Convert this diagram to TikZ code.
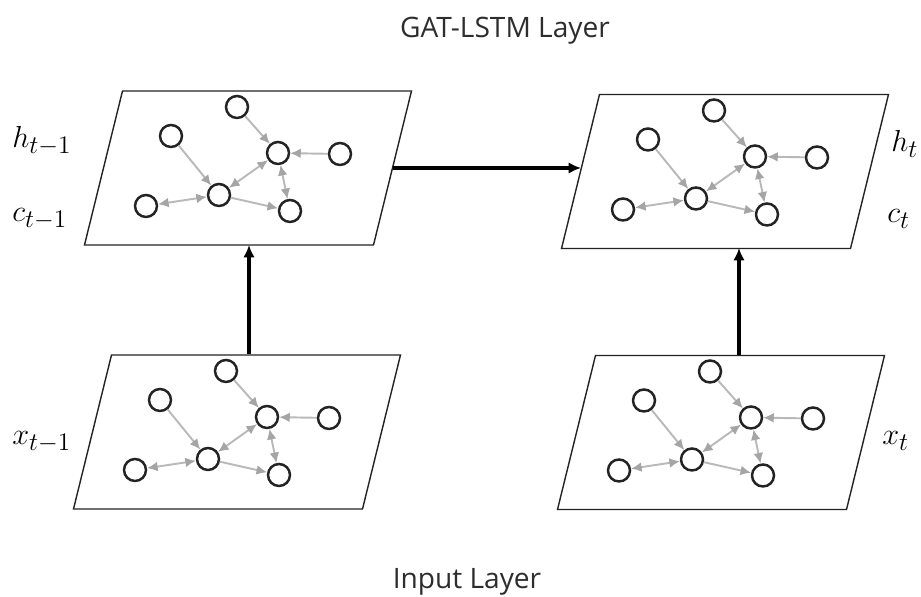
\documentclass[tikz,border=0pt]{standalone}
\usepackage{amsmath}
\usepackage{fontspec}
\usepackage{tikz}
\setsansfont{Open Sans}
\usetikzlibrary{arrows.meta}
\definecolor{mgray}{RGB}{185, 185, 185}
\definecolor{mtip}{RGB}{165, 165, 165}
\definecolor{mring}{RGB}{35, 35, 35}
\definecolor{mtext}{RGB}{45, 45, 45}
\tikzset{vertex/.style = {circle, draw=mring, line width=1.4pt,
                          minimum size=0.44cm, inner sep=0pt}}
\tikzset{link/.style = {mgray, line width=1.1pt,
                        -{Latex[length=6pt, width=5.6pt, color=mtip]}}}
\tikzset{twolink/.style = {mgray, line width=1.1pt,
                           {Latex[length=6pt, width=5.6pt, color=mtip]}-{Latex[length=6pt, width=5.6pt, color=mtip]}}}
\tikzset{flow/.style = {line width=1.9pt, -{Latex[length=7pt, width=6.5pt]}}}
\tikzset{state/.style = {font=\fontsize{19}{22}\selectfont, anchor=base west, inner sep=0pt}}
\tikzset{layer/.style = {font=\sffamily\fontsize{16}{19}\selectfont, text=mtext, anchor=base, inner sep=0pt}}

\begin{document}
\begin{tikzpicture}[x=0.02cm, y=-0.02cm]
    \useasboundingbox (0, 0) rectangle (921, 597);

    \foreach \p/\cx/\cy in {tl/248/168, tr/725/171.5, bl/237/432, br/721/432.5} {
      \begin{scope}[shift={(\cx, \cy)}]
        \draw [line width=0.8pt, mring] (-125.5, -77) -- (163.5, -77) -- (125.5, 77) -- (-163.5, 77) -- cycle;
        \node [vertex] (\p-a) at (-11, -61) {};
        \node [vertex] (\p-b) at (-77, -32) {};
        \node [vertex] (\p-c) at (30, -15) {};
        \node [vertex] (\p-d) at (92, -14) {};
        \node [vertex] (\p-e) at (-29, 27) {};
        \node [vertex] (\p-f) at (-102, 38) {};
        \node [vertex] (\p-g) at (42, 43) {};
        \draw [link] (\p-a) -- (\p-c);
        \draw [link] (\p-d) -- (\p-c);
        \draw [link] (\p-b) -- (\p-e);
        \draw [link] (\p-e) -- (\p-g);
        \draw [twolink] (\p-e) -- (\p-c);
        \draw [twolink] (\p-f) -- (\p-e);
        \draw [twolink] (\p-c) -- (\p-g);
      \end{scope}
    }

    % layer connections
    \coordinate (tl-out) at (392.5, 168);
    \coordinate (tr-in) at (581, 168);
    \coordinate (bl-out) at (249, 354);
    \coordinate (tl-in) at (249, 245);
    \coordinate (br-out) at (739, 355);
    \coordinate (tr-low) at (739, 248);
    \draw [flow] (tl-out) -- (tr-in);
    \draw [flow] (bl-out) -- (tl-in);
    \draw [flow] (br-out) -- (tr-low);

    \node [state] (hprev) at (12, 148) {$h_{t-1}$};
    \node [state] (cprev) at (12, 222) {$c_{t-1}$};
    \node [state] (xprev) at (12, 445) {$x_{t-1}$};
    \node [state] (hnow) at (891, 152) {$h_t$};
    \node [state] (cnow) at (887, 223) {$c_t$};
    \node [state] (xnow) at (882, 445) {$x_t$};

    \node [layer] (gat) at (505, 38) {GAT-LSTM Layer};
    \node [layer] (input) at (467, 589) {Input Layer};
\end{tikzpicture}
\end{document}
